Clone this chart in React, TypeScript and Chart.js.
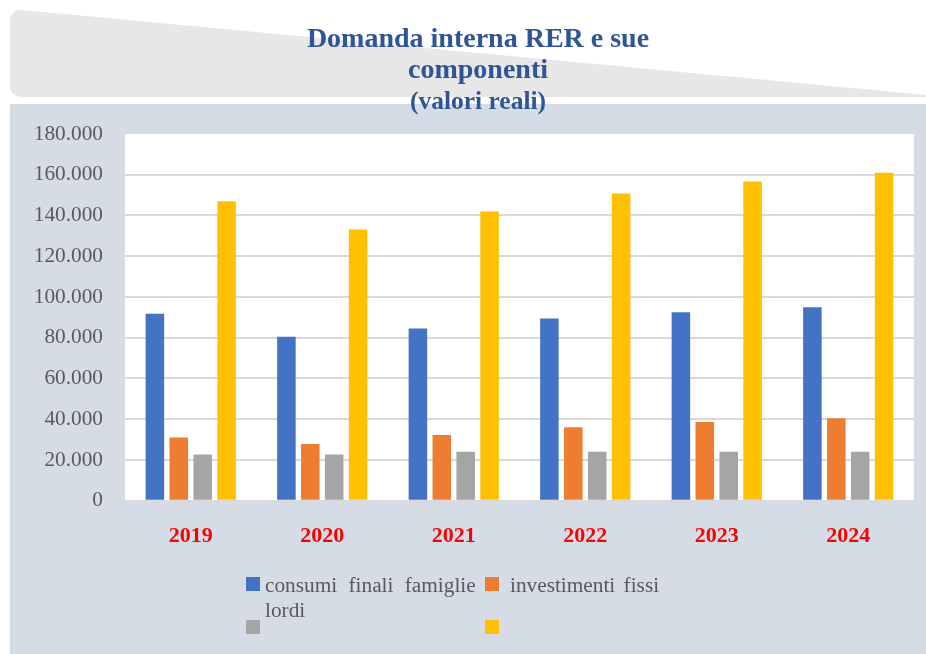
import React, { useEffect, useRef } from "react";
import { Chart, registerables } from "chart.js";

Chart.register(...registerables);

const years = ["2019", "2020", "2021", "2022", "2023", "2024"];
const consumiFinaliFamiglie = [91800, 80500, 84500, 89400, 92500, 95000];
const investimentiFissiLordi = [31000, 27800, 32200, 36000, 38600, 40500];
const serieGrigia = [22700, 22700, 24000, 24000, 24000, 24000];
const serieGialla = [147000, 133100, 142000, 150800, 156700, 161000];
const yMax = 180000;
const yStep = 20000;

const SERIF = "'Times New Roman', 'Liberation Serif', serif";

const fmt = (v: number) => String(Math.round(v)).replace(/\B(?=(\d{3})+(?!\d))/g, ".");

const plotBg = {
  id: "plotBg",
  beforeDraw(chart: any) {
    const { ctx, chartArea } = chart;
    ctx.save();
    ctx.fillStyle = "#ffffff";
    ctx.fillRect(chartArea.left, chartArea.top, chartArea.right - chartArea.left, chartArea.bottom - chartArea.top + 1);
    ctx.restore();
  },
};

export default function App() {
  const ref = useRef<HTMLCanvasElement>(null);

  useEffect(() => {
    if (!ref.current) return;
    const chart = new Chart(ref.current, {
      type: "bar",
      data: {
        labels: years,
        datasets: [
          { label: "consumi finali famiglie", data: consumiFinaliFamiglie, backgroundColor: "#4472C4" },
          { label: "investimenti fissi lordi", data: investimentiFissiLordi, backgroundColor: "#ED7D31" },
          { label: "", data: serieGrigia, backgroundColor: "#A5A5A5" },
          { label: "", data: serieGialla, backgroundColor: "#FFC000" },
        ],
      },
      options: {
        responsive: false,
        animation: false,
        devicePixelRatio: 1,
        layout: { padding: { top: 134, right: 12, left: 0, bottom: 0 } },
        datasets: { bar: { barPercentage: 0.775, categoryPercentage: 0.727 } },
        plugins: { legend: { display: false }, tooltip: { enabled: false }, title: { display: false } },
        scales: {
          x: {
            grid: { display: false, drawTicks: false },
            border: { display: false },
            ticks: {
              color: "#FF0000",
              padding: 22,
              font: { family: SERIF, size: 22, weight: "bold" },
            },
            afterFit: (s: any) => {
              s.height = 153.3;
            },
          },
          y: {
            min: 0,
            max: yMax,
            grid: {
              color: (c: any) => (c.tick && c.tick.value === yMax ? "rgba(0,0,0,0)" : "#D9D9D9"),
              lineWidth: 2,
              drawTicks: false,
            },
            border: { display: false },
            ticks: {
              stepSize: yStep,
              color: "#595959",
              padding: 22,
              font: { family: SERIF, size: 21.3 },
              callback: (v: any) => fmt(Number(v)),
            },
            afterFit: (s: any) => {
              s.width = 125;
            },
          },
        },
      },
      plugins: [plotBg],
    });
    return () => chart.destroy();
  }, []);

  const legendText: React.CSSProperties = {
    position: "absolute",
    fontFamily: SERIF,
    fontSize: "21.3px",
    lineHeight: "24px",
    color: "#595959",
    whiteSpace: "nowrap",
  };
  const sq = (left: number, top: number, color: string): React.CSSProperties => ({
    position: "absolute",
    left,
    top,
    width: 14,
    height: 14,
    background: color,
  });
  const titleLine = (top: number, size: number, lh: number): React.CSSProperties => ({
    position: "absolute",
    left: 478,
    top,
    transform: "translateX(-50%)",
    fontFamily: SERIF,
    fontWeight: "bold",
    fontSize: size + "px",
    lineHeight: lh + "px",
    color: "#2F5597",
    whiteSpace: "nowrap",
  });

  return (
    <div style={{ position: "fixed", left: 0, top: 0, width: 926, height: 654, background: "#ffffff", overflow: "hidden" }}>
      <svg width={926} height={100} style={{ position: "absolute", left: 0, top: 0 }}>
        <path d="M 22 10 L 926 95 L 926 97 L 22 97 Q 10 97 10 85 L 10 22 Q 10 10 22 10 Z" fill="#E7E7E7" />
      </svg>
      <div style={{ position: "absolute", left: 10, top: 104, width: 916, height: 550, background: "#D6DCE5" }} />
      <canvas ref={ref} width={926} height={654} style={{ position: "absolute", left: 0, top: 0, width: 926, height: 654 }} />
      <div style={titleLine(22, 28, 31)}>Domanda interna RER e sue</div>
      <div style={titleLine(53, 28, 31)}>componenti</div>
      <div style={titleLine(87.3, 25.5, 28)}>(valori reali)</div>

      <div style={sq(246, 577, "#4472C4")} />
      <div style={{ ...legendText, left: 265, top: 572.8, wordSpacing: "6px" }}>consumi finali famiglie</div>
      <div style={sq(485, 577, "#ED7D31")} />
      <div style={{ ...legendText, left: 510, top: 572.8, wordSpacing: "3px" }}>investimenti fissi</div>
      <div style={{ ...legendText, left: 265, top: 597.8 }}>lordi</div>
      <div style={sq(246, 620, "#A5A5A5")} />
      <div style={sq(485, 620, "#FFC000")} />
    </div>
  );
}
